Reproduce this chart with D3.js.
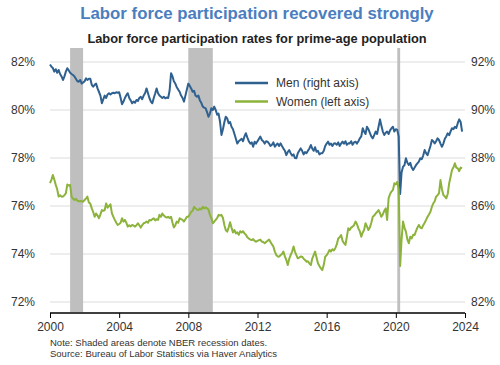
<!DOCTYPE html>
<html>
<head>
<meta charset="utf-8">
<script src="https://cdn.jsdelivr.net/npm/d3@7"></script>
<style>
  body { margin: 0; background: #fff; }
  svg { font-family: "Liberation Sans", Arial, sans-serif; }
</style>
</head>
<body>
<svg id="chart" width="500" height="365"></svg>
<script>
// monthly, Jan 2000 onward (percent)
const menValues = [
  91.9, 91.8, 91.75, 91.6, 91.7, 91.55, 91.67, 91.5, 91.4, 91.25, 91.4, 91.6,
  91.74, 91.65, 91.55, 91.5, 91.46, 91.4, 91.3, 91.2, 91.18, 91.25, 91.1, 91.15,
  91.2, 91.32, 91.25, 91.3, 91.3, 91.05, 90.97, 91.05, 91.1, 90.9, 90.75, 90.6,
  90.28, 90.45, 90.6, 90.5, 90.65, 90.7, 90.65, 90.7, 90.72, 90.7, 90.74, 90.72,
  90.74, 90.5, 90.24, 90.35, 90.5, 90.62, 90.7, 90.5, 90.4, 90.28, 90.35, 90.3,
  90.42, 90.38, 90.5, 90.55, 90.45, 90.6, 90.7, 90.9, 90.7, 90.5, 90.35, 90.28,
  90.5, 90.7, 90.9, 90.7, 90.6, 90.55, 90.5, 90.55, 90.49, 90.52, 90.5, 90.8,
  91.53, 91.4, 91.2, 91.1, 90.95, 90.85, 90.76, 90.6, 90.5, 90.35, 90.6, 90.85,
  91.1, 91.0, 90.9, 90.76, 90.8, 90.6, 90.55, 90.6, 90.4, 90.3, 90.14, 90.1,
  90.07, 89.9, 89.72, 89.85, 90.07, 90.0, 90.14, 90.0, 89.8, 89.85, 89.5, 88.96,
  89.2, 89.5, 89.72, 89.65, 89.45, 89.5, 89.3, 89.2, 89.0, 88.8, 88.6, 88.7,
  88.75, 88.8, 88.7, 88.9, 89.03, 88.85, 88.7, 88.6, 88.65, 88.47, 88.68, 88.6,
  88.7, 88.8, 88.89, 88.75, 88.7, 88.6, 88.7, 88.68, 88.6, 88.5, 88.55, 88.65,
  88.47, 88.55, 88.6, 88.5, 88.61, 88.5, 88.4, 88.3, 88.12, 88.25, 88.33, 88.2,
  88.1, 88.15, 88.0, 87.99, 88.2, 88.3, 88.4, 88.3, 88.15, 88.25, 88.2, 88.3,
  88.4, 88.54, 88.4, 88.3, 88.45, 88.26, 88.3, 88.15, 88.2, 88.2, 88.3, 88.5,
  88.6, 88.68, 88.55, 88.6, 88.5, 88.6, 88.61, 88.55, 88.65, 88.5, 88.6, 88.68,
  88.6, 88.7, 88.55, 88.61, 88.6, 88.7, 88.55, 88.65, 88.68, 88.6, 88.7, 88.82,
  88.9, 89.24, 89.1, 89.0, 89.3, 89.2, 89.05, 88.9, 88.82, 88.95, 89.1, 89.0,
  89.3, 89.61, 89.35, 89.1, 88.96, 89.05, 89.1, 89.0, 89.15, 89.24, 89.3, 89.1,
  89.2, 89.17, 88.9, 86.5, 87.4, 87.64, 87.7, 87.99, 87.8, 87.71, 87.8, 87.6,
  87.5, 87.6, 87.7, 87.78, 87.85, 87.99, 87.95, 88.1, 88.33, 88.2, 88.12, 88.3,
  88.5, 88.75, 88.7, 88.61, 88.7, 88.82, 88.75, 88.6, 88.47, 88.6, 88.8, 88.9,
  89.03, 88.95, 89.1, 89.24, 89.2, 89.3, 89.25, 89.45, 89.61, 89.5, 89.1
];

const womenValues = [
  76.95, 77.1, 77.29, 77.1, 76.88, 76.7, 76.39, 76.45, 76.39, 76.4, 76.45, 76.53,
  76.9, 76.85, 76.88, 76.39, 76.3, 76.25, 76.3, 76.22, 76.2, 76.21, 76.2, 76.18,
  76.25, 76.32, 76.39, 76.15, 76.1, 75.9, 75.75, 75.55, 75.69, 75.6, 75.49, 75.65,
  75.83, 75.8, 75.83, 76.11, 75.93, 76.0, 76.07, 75.69, 75.55, 75.42, 75.3, 75.21,
  75.25, 75.3, 75.49, 75.35, 75.42, 75.3, 75.14, 75.2, 75.15, 75.21, 75.18, 75.14,
  75.2, 75.28, 75.2, 75.1, 75.2, 75.28, 75.3, 75.35, 75.3, 75.42, 75.4, 75.45,
  75.49, 75.4, 75.45, 75.42, 75.63, 75.55, 75.69, 75.6, 75.55, 75.52, 75.55, 75.5,
  75.55, 75.3, 75.1, 75.2, 75.35, 75.3, 75.49, 75.45, 75.42, 75.35, 75.45, 75.55,
  75.55, 75.65, 75.76, 75.8, 75.97, 75.9, 75.85, 75.83, 75.9, 75.85, 75.97, 75.9,
  75.95, 75.9, 75.85, 75.63, 75.5, 75.28, 75.35, 75.42, 75.5, 75.63, 75.6, 75.63,
  75.5, 75.2, 75.0, 74.93, 75.1, 75.32, 75.1, 74.9, 75.0, 74.86, 74.9, 74.8,
  74.95, 74.9, 74.95, 74.86, 74.8, 74.7, 74.65, 74.6, 74.58, 74.62, 74.55, 74.51,
  74.55, 74.58, 74.6, 74.52, 74.5, 74.45, 74.5, 74.55, 74.6, 74.5, 74.4, 74.31,
  74.1, 73.96, 73.9, 73.89, 73.95, 74.0, 74.1, 73.9, 73.75, 73.54, 73.8, 73.95,
  74.1, 74.31, 74.1, 73.95, 73.82, 73.85, 73.9, 73.89, 73.8, 73.75, 73.68, 73.7,
  73.6, 73.54, 73.8, 73.95, 74.1, 73.85, 73.61, 73.5, 73.4, 73.33, 73.55, 73.89,
  73.95, 74.05, 74.17, 74.1, 74.2, 74.15, 74.24, 74.4, 74.65, 74.7, 74.79, 74.55,
  74.45, 74.38, 74.7, 75.07, 75.0, 75.1, 75.14, 75.2, 75.35, 75.25, 75.07, 74.95,
  74.72, 74.9, 75.0, 75.28, 75.15, 75.0, 75.1, 75.3, 75.55, 75.6, 75.69, 75.75,
  75.83, 75.7, 75.55, 75.65, 75.8, 75.9, 75.42, 76.32, 76.5, 76.6, 76.67, 76.95,
  76.9, 77.01, 76.7, 73.5, 74.6, 75.35, 75.1, 74.93, 74.6, 74.45, 74.72, 74.65,
  74.8, 74.79, 74.95, 75.1, 75.21, 75.1, 75.07, 75.2, 75.3, 75.42, 75.55, 75.65,
  75.76, 75.97, 76.1, 76.2, 76.39, 76.45, 76.53, 77.08, 76.7, 76.46, 76.4, 76.32,
  76.5, 76.95, 77.2, 77.5, 77.6, 77.78, 77.6, 77.57, 77.45, 77.6, 77.57
];

const recessions = [
  ["2001-03-01", "2001-11-30"],
  ["2007-12-31", "2009-06-01"],
  ["2020-02-01", "2020-04-01"]
];

const leftTicks = [72, 74, 76, 78, 80, 82];
const rightTicks = [82, 84, 86, 88, 90, 92];
const yearTicks = [2000, 2004, 2008, 2012, 2016, 2020, 2024];

const series = [
  { title: "Men (right axis)", color: "#2f6190", values: menValues, axis: "right" },
  { title: "Women (left axis)", color: "#8cb33b", values: womenValues, axis: "left" }
];

const margin = { left: 50, right: 35, top: 48, bottom: 52 };
const width = 500, height = 365;
const plotBottom = 312;

const svg = d3.select("#chart");
const start = new Date(2000, 0, 1);
const monthDate = i => d3.timeMonth.offset(start, i);

const x = d3.scaleTime()
  .domain([start, new Date(2024, 0, 1)])
  .range([margin.left, width - margin.right]);
const yLeft = d3.scaleLinear().domain([72, 82]).range([302, 62]);
const yRight = d3.scaleLinear().domain([82, 92]).range([302, 62]);

// title
svg.append("text")
  .attr("x", 257).attr("y", 19)
  .attr("text-anchor", "middle")
  .attr("font-size", 16.8).attr("font-weight", "bold")
  .attr("fill", "#4a7ebf")
  .text("Labor force participation recovered strongly");

svg.append("text")
  .attr("x", 257).attr("y", 43)
  .attr("text-anchor", "middle")
  .attr("font-size", 12.8).attr("font-weight", "bold")
  .attr("fill", "#222")
  .text("Labor force participation rates for prime-age population");

// gridlines
svg.append("g")
  .selectAll("line")
  .data(leftTicks)
  .join("line")
  .attr("x1", margin.left).attr("x2", width - margin.right)
  .attr("y1", d => yLeft(d)).attr("y2", d => yLeft(d))
  .attr("stroke", "#dcdcdc").attr("stroke-width", 1);

// recessions
svg.append("g")
  .selectAll("rect")
  .data(recessions)
  .join("rect")
  .attr("x", d => x(new Date(d[0])))
  .attr("width", d => Math.max(2, x(new Date(d[1])) - x(new Date(d[0]))))
  .attr("y", margin.top)
  .attr("height", plotBottom - margin.top)
  .attr("fill", "#bfbfbf");

// axis labels
svg.append("g")
  .attr("transform", `translate(${margin.left - 12},0)`)
  .call(d3.axisLeft(yLeft).tickValues(leftTicks).tickSize(0).tickFormat(d => d + "%"))
  .call(g => g.select(".domain").remove())
  .call(g => g.selectAll("text").attr("font-size", 12).attr("fill", "#333")
    .attr("font-family", "Liberation Sans, Arial, sans-serif"));

svg.append("g")
  .attr("transform", `translate(${width - margin.right + 3},0)`)
  .call(d3.axisRight(yRight).tickValues(rightTicks).tickSize(0).tickFormat(d => d + "%"))
  .call(g => g.select(".domain").remove())
  .call(g => g.selectAll("text").attr("font-size", 12).attr("fill", "#333")
    .attr("font-family", "Liberation Sans, Arial, sans-serif"));

// lines
const lineFor = s => d3.line()
  .x((v, i) => x(monthDate(i)))
  .y(v => (s.axis === "right" ? yRight : yLeft)(v));

svg.append("g")
  .selectAll("path")
  .data(series)
  .join("path")
  .attr("fill", "none")
  .attr("stroke", d => d.color)
  .attr("stroke-width", 2)
  .attr("stroke-linejoin", "round")
  .attr("d", d => lineFor(d)(d.values));

// x axis
svg.append("g")
  .attr("transform", `translate(0,${plotBottom + 1})`)
  .call(d3.axisBottom(x)
    .tickValues(yearTicks.map(yr => new Date(yr, 0, 1)))
    .tickSize(5)
    .tickFormat(d3.timeFormat("%Y")))
  .call(g => g.select(".domain").attr("stroke", "#000").attr("stroke-width", 1.5)
    .attr("d", `M${margin.left},0H${width - margin.right}`))
  .call(g => g.selectAll(".tick line").attr("stroke", "#000"))
  .call(g => g.selectAll("text").attr("font-size", 12).attr("fill", "#333").attr("dy", "0.85em")
    .attr("font-family", "Liberation Sans, Arial, sans-serif"));

// legend
const legend = svg.append("g")
  .selectAll("g")
  .data(series)
  .join("g")
  .attr("transform", (d, i) => `translate(235,${83 + i * 18.5})`);
legend.append("line")
  .attr("x1", 0).attr("x2", 33)
  .attr("stroke", d => d.color).attr("stroke-width", 2.5);
legend.append("text")
  .attr("x", 41).attr("dy", "0.35em")
  .attr("font-size", 12).attr("fill", "#333")
  .text(d => d.title);

// notes
svg.append("text")
  .attr("x", 50).attr("y", 346)
  .attr("font-size", 9.5).attr("fill", "#333")
  .text("Note: Shaded areas denote NBER recession dates.");
svg.append("text")
  .attr("x", 50).attr("y", 357)
  .attr("font-size", 9.5).attr("fill", "#333")
  .text("Source: Bureau of Labor Statistics via Haver Analytics");
</script>
</body>
</html>
